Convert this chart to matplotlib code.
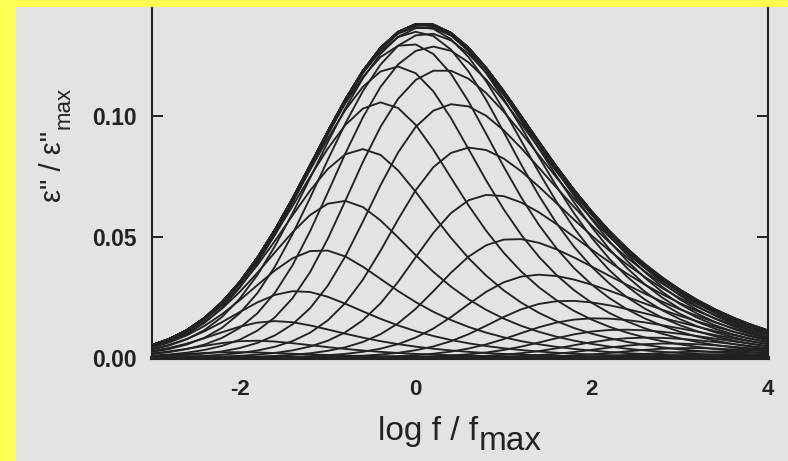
import numpy as np
import matplotlib
matplotlib.use("Agg")
import matplotlib.pyplot as plt
from matplotlib.patches import Rectangle

# Relaxation sub-peaks: loss-peak position (log f / f_max) and relative strength
component_log_f = [-2.05, -1.75, -1.45, -1.15, -0.85, -0.55, -0.25, 0.05, 0.35,
                   0.65, 0.95, 1.25, 1.55, 1.85, 2.15, 2.45, 2.75, 3.05, 3.35, 3.65]
component_strength = [0.086, 0.173, 0.308, 0.491, 0.696, 0.878, 0.986, 0.986, 0.878,
                      0.70, 0.51, 0.35, 0.23, 0.16, 0.115, 0.085, 0.062, 0.045,
                      0.032, 0.023]
hn_alpha = 0.9             # Havriliak-Negami shape of every sub-peak
hn_gamma = 0.5
peak_loss = 0.138          # maximum of the complete loss curve

x_ticks = [-2, 0, 2, 4]
x_tick_labels = ["-2", "0", "2", "4"]
y_ticks = [0.00, 0.05, 0.10]
y_tick_labels = ["0.00", "0.05", "0.10"]

W, H, DPI = 788, 461, 100
paper = "#e3e3e1"
ink = "#222222"
border = "#fdfd52"

fig = plt.figure(figsize=(W / DPI, H / DPI), dpi=DPI, facecolor=paper)
ax = fig.add_axes([151.7 / W, 103 / H, (767.7 - 151.7) / W, (358 - 2) / H])
ax.set_facecolor("none")


def hn_loss(u, a, g):
    """Imaginary part of the Havriliak-Negami function, u = log10(omega tau)."""
    w = 10.0 ** u
    return -(1.0 / (1.0 + (1j * w) ** a) ** g).imag


# locate the sub-peak maximum so every component is placed by its peak
u_fine = np.linspace(-4, 4, 8001)
shape = hn_loss(u_fine, hn_alpha, hn_gamma)
u_peak = u_fine[np.argmax(shape)]
shape_max = shape.max()


def sub_peak(x, center):
    return hn_loss(x - center + u_peak, hn_alpha, hn_gamma) / shape_max


# loss spectrum sampled on a coarse frequency grid
log_f = np.arange(-3.0, 4.0001, 0.2)
pos = np.array(component_log_f)
strength = np.array(component_strength)
parts = strength[:, None] * sub_peak(log_f[None, :], pos[:, None])
parts *= peak_loss / parts.sum(axis=0).max()

from_low = np.cumsum(parts, axis=0)          # sub-peaks summed from low frequencies
from_high = np.cumsum(parts[::-1], axis=0)   # sub-peaks summed from high frequencies

for curve in from_low:
    ax.plot(log_f, curve, color=ink, lw=1.35, solid_joinstyle="miter")
for curve in from_high[:-1]:
    ax.plot(log_f, curve, color=ink, lw=1.35, solid_joinstyle="miter")

ax.set_xlim(-3, 4)
ax.set_ylim(0, 356 / 2420)
ax.set_xticks(x_ticks)
ax.set_xticklabels(x_tick_labels)
ax.set_yticks(y_ticks)
ax.set_yticklabels(y_tick_labels)

for side in ("left", "right"):
    ax.spines[side].set_linewidth(1.5)
    ax.spines[side].set_color(ink)
ax.spines["bottom"].set_linewidth(3.0)
ax.spines["bottom"].set_color(ink)
ax.spines["top"].set_visible(False)

ax.tick_params(axis="y", which="both", direction="in", left=True, right=True,
               length=8, width=1.4, color=ink, pad=10.5)
ax.tick_params(axis="x", length=0, pad=15)
for lab in ax.get_yticklabels():
    lab.set_fontproperties(dict(family="Liberation Sans", weight="bold", size=16.5))
    lab.set_color(ink)
    lab.set_verticalalignment("center_baseline")
for lab in ax.get_xticklabels():
    lab.set_fontproperties(dict(family="Liberation Sans", weight="bold", size=16))
    lab.set_color(ink)

# axis titles with lowered "max"
renderer = fig.canvas.get_renderer()
xl = fig.text(378 / W, (H - 440) / H, "log f / f", ha="left", va="baseline",
              family="Liberation Sans", size=24, color=ink)
bb = xl.get_window_extent(renderer)
fig.text((bb.x1 + 1) / W, (H - 450) / H, "max", ha="left", va="baseline",
         family="Liberation Sans", size=24, color=ink)

yl = fig.text(61 / W, (H - 202) / H, "ε\" / ε\"", rotation=90, rotation_mode="anchor",
              ha="left", va="baseline", family="Liberation Sans", size=21, color=ink)
bb = yl.get_window_extent(renderer)
fig.text(70 / W, (bb.y1 + 2) / H, "max", rotation=90, rotation_mode="anchor",
         ha="left", va="baseline", family="Liberation Sans", size=16, color=ink)

# yellow frame along the left and top edges
fig.add_artist(Rectangle((0, 0), 16 / W, 1, transform=fig.transFigure,
                         facecolor=border, edgecolor="none", zorder=10))
fig.add_artist(Rectangle((0, 1 - 7 / H), 1, 7 / H, transform=fig.transFigure,
                         facecolor=border, edgecolor="none", zorder=10))

fig.savefig("out.png", dpi=DPI, facecolor=paper)
